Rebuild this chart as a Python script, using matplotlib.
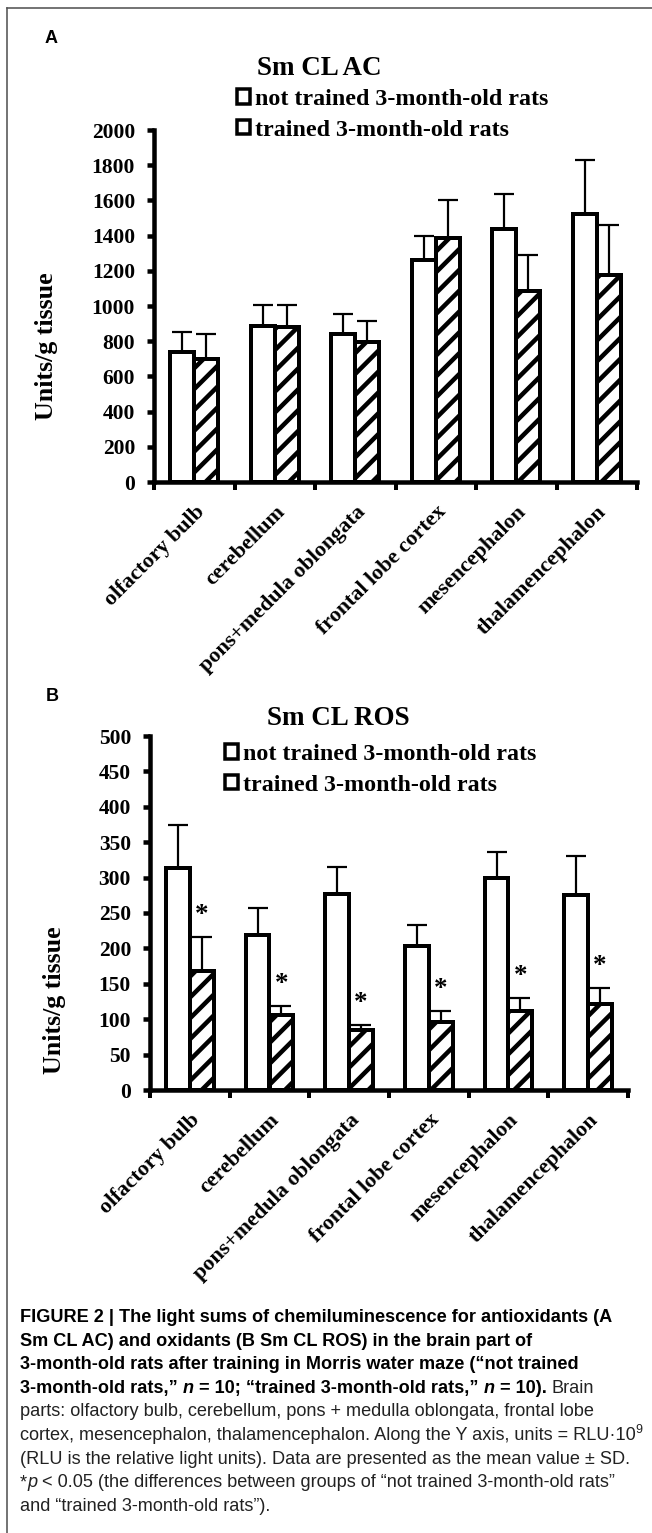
import numpy as np
import matplotlib
matplotlib.use("Agg")
import matplotlib.pyplot as plt
from matplotlib.patches import Patch
from matplotlib.lines import Line2D

# ----------------------------------------------------------
# DATA
# ----------------------------------------------------------
regions = ["olfactory bulb", "cerebellum", "pons+medula oblongata",
           "frontal lobe cortex", "mesencephalon", "thalamencephalon"]
groups = ["not trained 3-month-old rats", "trained 3-month-old rats"]

# panel A: Sm CL AC
ac_not_trained = [739, 886, 843, 1264, 1436, 1525]
ac_not_trained_sd = [113, 118, 114, 132, 203, 303]
ac_trained = [701, 881, 796, 1389, 1084, 1178]
ac_trained_sd = [142, 123, 119, 216, 204, 281]

# panel B: Sm CL ROS
ros_not_trained = [313, 219, 277, 204, 299, 275]
ros_not_trained_sd = [61, 38, 38, 29, 37, 55]
ros_trained = [168, 106, 85, 96, 112, 121]
ros_trained_sd = [48, 13, 7, 16, 18, 23]
ros_significant = [True, True, True, True, True, True]

# ----------------------------------------------------------
# LAYOUT HELPERS (pixel based)
# ----------------------------------------------------------
DPI = 125
W, H = 652, 1533
SERIF = "Liberation Serif"
SANS = "Liberation Sans"

plt.rcParams["hatch.linewidth"] = 2.6
plt.rcParams["font.family"] = SERIF


def pt(px):
    return px * 72 / DPI


def fx(px):
    return px / W


def fy(py):
    return 1 - py / H


fig = plt.figure(figsize=(W / DPI, H / DPI), dpi=DPI)
renderer = fig.canvas.get_renderer()


def draw_panel(ax, nt, nt_sd, tr, tr_sd, ymax, ystep, stars=None):
    x = np.arange(len(regions))
    w = 0.30
    n = len(regions)
    ax.bar(x - w / 2, nt, w, facecolor="white", edgecolor="black",
           linewidth=pt(4), zorder=3)
    ax.bar(x + w / 2, tr, w, facecolor="white", edgecolor="black",
           hatch="//", linewidth=pt(4), zorder=3)
    for xs, m, sd in [(x - w / 2, nt, nt_sd), (x + w / 2, tr, tr_sd)]:
        ax.errorbar(xs, m, yerr=[np.zeros(n), sd], fmt="none", ecolor="black",
                    elinewidth=pt(2.2), capsize=pt(10), capthick=pt(2.2), zorder=2)
    if stars is not None:
        for xi, m, sd, s in zip(x + w / 2, tr, tr_sd, stars):
            if s:
                ax.annotate("*", (xi, m + sd), xytext=(0, pt(15)),
                            textcoords="offset points", ha="center", va="baseline",
                            fontsize=pt(27), fontweight="bold", family=SERIF)

    ax.set_xlim(-0.5, n - 0.5)
    ax.set_ylim(0, ymax)
    for s in ["top", "right"]:
        ax.spines[s].set_visible(False)
    for s in ["left", "bottom"]:
        ax.spines[s].set_linewidth(pt(4.5))
    ax.set_yticks(np.arange(0, ymax + 1, ystep))
    ax.tick_params(axis="y", direction="out", length=pt(7), width=pt(4.5),
                   pad=pt(12), labelsize=pt(21.5))
    for lbl in ax.get_yticklabels():
        lbl.set_fontweight("bold")
    ax.set_xticks(np.arange(-0.5, n, 1))
    ax.set_xticklabels([])
    ax.tick_params(axis="x", which="major", direction="out", length=pt(8), width=pt(4))
    ax.set_xticks(x, regions, minor=True)
    ax.tick_params(axis="x", which="minor", length=0, pad=pt(20), labelsize=pt(22))
    for lbl in ax.get_xticklabels(minor=True):
        lbl.set(rotation=45, ha="right", va="top", rotation_mode="anchor",
                fontweight="bold")
    ax.set_ylabel("Units/g tissue", fontsize=pt(26), fontweight="bold")


def add_legend(ax, left_px, top_px):
    handles = [Patch(facecolor="white", edgecolor="black", linewidth=pt(3.5)),
               Patch(facecolor="white", edgecolor="black", linewidth=pt(3.5))]
    ax.legend(handles, groups, loc="upper left",
              bbox_to_anchor=(fx(left_px), fy(top_px)), bbox_transform=fig.transFigure,
              frameon=False, borderpad=0, borderaxespad=0,
              handlelength=0.55, handleheight=0.55, handletextpad=0.2,
              labelspacing=0.4,
              prop=dict(family=SERIF, weight="bold", size=pt(24)))


# ----------------------------------------------------------
# PANEL A
# ----------------------------------------------------------
axA = fig.add_axes([fx(154), fy(482), (637 - 154) / W, (482 - 130) / H])
draw_panel(axA, ac_not_trained, ac_not_trained_sd, ac_trained, ac_trained_sd, 2000, 200)
axA.yaxis.set_label_coords(-0.199, 0.386)
add_legend(axA, 237, 89)
fig.text(fx(319), fy(75), "Sm CL AC", ha="center", va="baseline",
         family=SERIF, weight="bold", size=pt(27))
fig.text(fx(45), fy(43), "A", ha="left", va="baseline", family=SANS,
         weight="bold", size=pt(18))

# ----------------------------------------------------------
# PANEL B
# ----------------------------------------------------------
axB = fig.add_axes([fx(150), fy(1090), (628 - 150) / W, (1090 - 736) / H])
draw_panel(axB, ros_not_trained, ros_not_trained_sd, ros_trained, ros_trained_sd,
           500, 50, stars=ros_significant)
axB.yaxis.set_label_coords(-0.176, 0.254)
add_legend(axB, 225, 744)
fig.text(fx(338), fy(725), "Sm CL ROS", ha="center", va="baseline",
         family=SERIF, weight="bold", size=pt(27))
fig.text(fx(46), fy(701), "B", ha="left", va="baseline", family=SANS,
         weight="bold", size=pt(18))

# ----------------------------------------------------------
# CAPTION
# ----------------------------------------------------------
CAP = 18.1
BOLD = dict(family=SANS, weight="bold", size=pt(CAP), color="black")
BOLD_IT = dict(family=SANS, weight="bold", style="italic", size=pt(CAP), color="black")
REG = dict(family=SANS, weight="normal", size=pt(CAP), color="#222222")
REG_IT = dict(family=SANS, weight="normal", style="italic", size=pt(CAP), color="#222222")
SUP = dict(family=SANS, weight="normal", size=pt(12.5), color="#222222")


def text_width(s, kw):
    t = fig.text(0, 0, s, **kw)
    w = t.get_window_extent(renderer).width
    t.remove()
    return w


def draw_line(x_px, y_px, segments):
    x = x_px
    for seg in segments:
        s, kw = seg[0], seg[1]
        dy = seg[2] if len(seg) > 2 else 0
        sp = text_width("a a", kw) - text_width("aa", kw)
        lead = len(s) - len(s.lstrip(" "))
        trail = len(s) - len(s.rstrip(" "))
        core = s.strip(" ")
        x += lead * sp
        t = fig.text(fx(x), fy(y_px - dy), core, ha="left", va="baseline", **kw)
        x += t.get_window_extent(renderer).width + trail * sp


caption = [
    [("FIGURE 2 | The light sums of chemiluminescence for antioxidants (A", BOLD)],
    [("Sm CL AC) and oxidants (B Sm CL ROS) in the brain part of", BOLD)],
    [("3-month-old rats after training in Morris water maze (\u201cnot trained", BOLD)],
    [("3-month-old rats,\u201d ", BOLD), ("n", BOLD_IT),
     (" = 10; \u201ctrained 3-month-old rats,\u201d ", BOLD), ("n", BOLD_IT),
     (" = 10).", BOLD), (" Brain", REG)],
    [("parts: olfactory bulb, cerebellum, pons + medulla oblongata, frontal lobe", REG)],
    [("cortex, mesencephalon, thalamencephalon. Along the Y axis, units = RLU\u00b710", REG),
     ("9", SUP, 7)],
    [("(RLU is the relative light units). Data are presented as the mean value \u00b1 SD.", REG)],
    [("*", REG), ("p", REG_IT),
     (" < 0.05 (the differences between groups of \u201cnot trained 3-month-old rats\u201d", REG)],
    [("and \u201ctrained 3-month-old rats\u201d).", REG)],
]
for i, line in enumerate(caption):
    draw_line(20, 1322 + i * 23.6, line)

# frame
fig.add_artist(Line2D([fx(7), fx(7)], [fy(8), 0], color="#555555", lw=pt(1.6)))
fig.add_artist(Line2D([fx(7), 1], [fy(8), fy(8)], color="#555555", lw=pt(1.6)))

fig.savefig("out.png", dpi=DPI, facecolor="white")
